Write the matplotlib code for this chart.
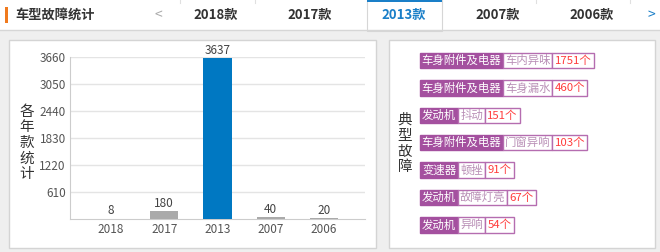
import matplotlib.pyplot as plt
from matplotlib.patches import Rectangle

plt.rcParams['font.family'] = ['Noto Sans CJK SC', 'DejaVu Sans']

# bar chart data
years = ['2018', '2017', '2013', '2007', '2006']
counts = [8, 180, 3637, 40, 20]
highlight = '2013'
y_ticks = [610, 1220, 1830, 2440, 3050, 3660]

# header tabs
tab_labels = ['2018款', '2017款', '2013款', '2007款', '2006款']
tab_x = [216, 310, 404, 498, 592]

# typical faults
fault_cats = ['车身附件及电器', '车身附件及电器', '发动机', '车身附件及电器', '变速器', '发动机', '发动机']
fault_items = ['车内异味', '车身漏水', '抖动', '门窗异响', '顿挫', '故障灯亮', '异响']
fault_counts = [1751, 460, 151, 103, 91, 67, 54]

W, H = 660, 252
fig = plt.figure(figsize=(W / 100, H / 100), dpi=100)
fig.patch.set_facecolor('#efefef')

# background axes in pixel coordinates
bg = fig.add_axes([0, 0, 1, 1])
bg.set_xlim(0, W)
bg.set_ylim(H, 0)
bg.axis('off')

# header strip
bg.add_patch(Rectangle((0, 0), W, 29.5, facecolor='white', edgecolor='none'))
bg.plot([0, W], [29.5, 29.5], color='#d6d6d6', lw=1)
bg.add_patch(Rectangle((5, 7), 3, 16, facecolor='#f07a1e', edgecolor='none'))
bg.text(15, 15, '车型故障统计', fontsize=9.5, fontweight='bold', color='#333333', va='center')
bg.text(158, 15, '<', fontsize=10, color='#aaaaaa', va='center', ha='center')
bg.text(651, 15, '>', fontsize=10, color='#1a7fc8', va='center', ha='center')
for sx in [180, 255, 536, 630]:
    bg.plot([sx, sx], [0, 3], color='#e0e0e0', lw=0.8)
# active tab
bg.add_patch(Rectangle((366.5, 0), 75, 31, facecolor='white', edgecolor='#d6d6d6', lw=0.8))
bg.add_patch(Rectangle((366.5, 0), 75, 2.2, facecolor='#1a7fc8', edgecolor='none'))
for lbl, x in zip(tab_labels, tab_x):
    c = '#1a7fc8' if lbl.startswith(highlight) else '#333333'
    bg.text(x, 15, lbl, fontsize=9.5, fontweight='bold', color=c, ha='center', va='center')

# panels
bg.add_patch(Rectangle((8.5, 39.5), 367, 208, facecolor='white', edgecolor='#d4d4d4', lw=1))
bg.add_patch(Rectangle((388.5, 39.5), 266, 208, facecolor='white', edgecolor='#d4d4d4', lw=1))

# y label of left chart, stacked characters
for i, ch in enumerate('各年款统计'):
    bg.text(27, 112 + i * 15.5, ch, fontsize=10.5, color='#333333', ha='center', va='center')

# bar chart
ax = fig.add_axes([70 / W, 1 - 219 / H, (365 - 70) / W, (219 - 57) / H])
ax.set_facecolor('none')
x = list(range(len(years)))
colors = ['#0078c2' if y == highlight else '#aaaaaa' for y in years]
ax.bar(x, counts, width=0.53, color=colors, zorder=3)
for xi, v in zip(x, counts):
    ax.text(xi, v + 30, str(v), ha='center', va='bottom', fontsize=8.5, color='#444444')
ax.set_xlim(-0.77, 4.77)
ax.set_ylim(0, 3660)
ax.set_yticks(y_ticks)
ax.set_xticks(x)
ax.set_xticklabels(years)
for t in ax.get_xticklabels():
    if t.get_text() == highlight:
        t.set_color('#333333')
ax.tick_params(axis='both', length=0, labelsize=8.5, labelcolor='#555555', pad=3)
ax.grid(axis='y', color='#e4e4e4', lw=1, zorder=0)
for s in ['top', 'right']:
    ax.spines[s].set_visible(False)
for s in ['left', 'bottom']:
    ax.spines[s].set_color('#cccccc')

# right panel label
for i, ch in enumerate('典型故障'):
    bg.text(405, 120 + i * 15.7, ch, fontsize=10.5, color='#333333', ha='center', va='center')


def text_w(s):
    return sum(11.2 if ord(c) > 255 else 6.5 for c in s) + 4.5


purple = '#a4509f'
row_y0, row_dy, box_h = 60.5, 27.4, 15.6
for i, (cat, item, n) in enumerate(zip(fault_cats, fault_items, fault_counts)):
    yc = row_y0 + i * row_dy
    top = yc - box_h / 2
    x0 = 420
    w1 = text_w(cat)
    bg.add_patch(Rectangle((x0, top), w1, box_h, facecolor=purple, edgecolor=purple, lw=1))
    bg.text(x0 + w1 / 2, yc, cat, fontsize=8.2, color='white', ha='center', va='center')
    x1 = x0 + w1
    w2 = text_w(item)
    bg.add_patch(Rectangle((x1, top), w2, box_h, facecolor='white', edgecolor='#b56db0', lw=1))
    bg.text(x1 + w2 / 2, yc, item, fontsize=8.2, color='#b98fb6', ha='center', va='center')
    x2 = x1 + w2
    cnt = str(n) + '个'
    w3 = text_w(cnt)
    bg.add_patch(Rectangle((x2, top), w3, box_h, facecolor='white', edgecolor='#b56db0', lw=1))
    bg.text(x2 + w3 / 2, yc, cnt, fontsize=8.2, color='#ff3c3c', ha='center', va='center')

fig.savefig('out.png', dpi=100, facecolor=fig.get_facecolor())
